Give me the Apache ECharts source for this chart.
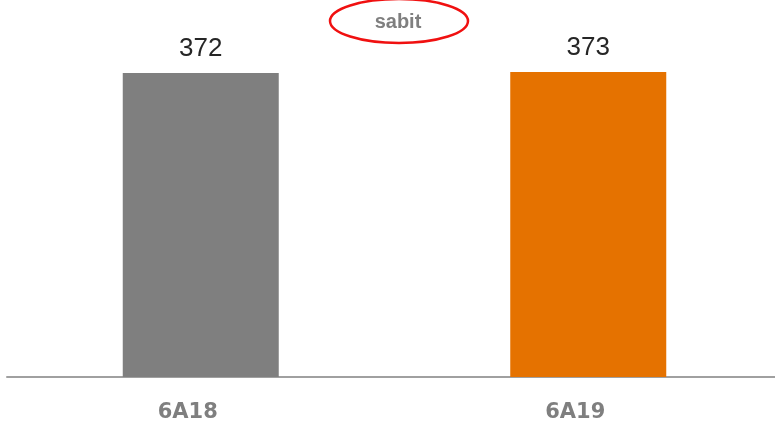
<!DOCTYPE html>
<html>
<head>
<meta charset="utf-8">
<script src="https://cdn.jsdelivr.net/npm/echarts@6/dist/echarts.min.js"></script>
<style>
  html, body { margin: 0; padding: 0; background: #fff; overflow: hidden; }
  #main { width: 782px; height: 428px; }
</style>
</head>
<body>
<div id="main"></div>
<script>
var categories = ['6A18', '6A19'];
var values = [372, 373];
var barColors = ['#7f7f7f', '#e57200'];

var myChart = echarts.init(document.getElementById('main'));

var option = {
    animation: false,
    grid: {
        left: 7,
        right: 0,
        top: 50,
        bottom: 51
    },
    xAxis: {
        type: 'category',
        data: categories,
        axisTick: {show: false},
        axisLine: {lineStyle: {color: '#a0a0a0', width: 2}},
        axisLabel: {
            color: '#7f7f7f',
            fontFamily: 'DejaVu Sans',
            fontWeight: 'bold',
            fontSize: 21,
            margin: 25,
            padding: [0, 26, 0, 0]
        }
    },
    yAxis: {
        type: 'value',
        min: 0,
        max: 400,
        show: false,
        splitLine: {show: false}
    },
    series: [{
        type: 'bar',
        barWidth: 156,
        data: values.map(function (v, i) {
            return {value: v, itemStyle: {color: barColors[i]}};
        }),
        label: {
            show: true,
            position: 'top',
            distance: 11,
            color: '#262626',
            fontFamily: 'Liberation Sans',
            fontSize: 26
        }
    }],
    graphic: [
        {
            type: 'ellipse',
            shape: {cx: 399, cy: 21, rx: 69, ry: 22},
            style: {fill: 'none', stroke: '#f01010', lineWidth: 2.5}
        },
        {
            type: 'text',
            x: 398,
            y: 22,
            style: {
                text: 'sabit',
                fill: '#7f7f7f',
                font: 'bold 20px "Liberation Sans"',
                align: 'center',
                verticalAlign: 'middle'
            }
        },
        {
            type: 'text',
            x: 12,
            y: -9,
            style: {
                text: '///',
                fill: '#7f7f7f',
                font: 'italic bold 12px "Liberation Sans"'
            }
        }
    ]
};

myChart.setOption(option);
</script>
</body>
</html>
